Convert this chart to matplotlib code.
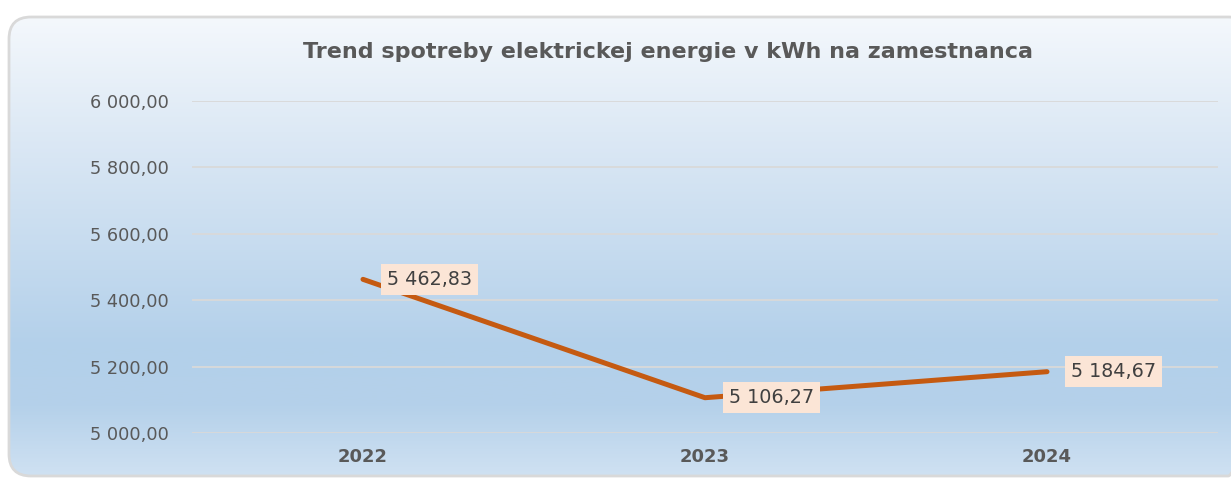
import numpy as np
import matplotlib
matplotlib.use("Agg")
import matplotlib.pyplot as plt
from matplotlib.patches import FancyBboxPatch
from matplotlib.colors import LinearSegmentedColormap

years = ["2022", "2023", "2024"]
values = [5462.83, 5106.27, 5184.67]
yticks = [5000, 5200, 5400, 5600, 5800, 6000]
title = "Trend spotreby elektrickej energie v kWh na zamestnanca"

def fmt(v):
    s = f"{v:,.2f}"
    return s.replace(",", " ").replace(".", ",")

FONT = "DejaVu Sans"
W, H = 1231, 478
fig = plt.figure(figsize=(W / 100, H / 100), dpi=100)
fig.patch.set_facecolor("white")

# background panel with gradient
bg = fig.add_axes([0, 0, 1, 1])
bg.set_xlim(0, W)
bg.set_ylim(H, 0)
bg.axis("off")
cmap = LinearSegmentedColormap.from_list(
    "g", [(0.0, "#f4f8fc"), (0.25, "#dde9f5"), (0.72, "#b3d0ea"), (0.85, "#b5d1ea"), (1.0, "#cfe1f2")])
grad = np.linspace(0, 1, 256).reshape(-1, 1)
x0, y0, x1, y1 = 9, 17, 1250, 476
im = bg.imshow(grad, cmap=cmap, aspect="auto", extent=[x0, x1, y1, y0], zorder=1)
panel = FancyBboxPatch((x0, y0), x1 - x0, y1 - y0, boxstyle="round,pad=0,rounding_size=22",
                       facecolor="none", edgecolor="#d9d9d9", linewidth=2.0, zorder=2)
bg.add_patch(panel)
im.set_clip_path(panel)

# main axes
left_px, right_px = 192, 1218
top_px, bot_px = 101, 433
ax = fig.add_axes([left_px / W, (H - bot_px) / H, (right_px - left_px) / W, (bot_px - top_px) / H])
ax.set_facecolor("none")
ax.set_xlim(-0.5, 2.5)
ax.set_ylim(5000, 6000)
ax.set_yticks(yticks)
ax.set_yticklabels([fmt(v) for v in yticks])
ax.set_xticks(range(len(years)))
ax.set_xticklabels(years)
for s in ax.spines.values():
    s.set_visible(False)
ax.grid(axis="y", color="#d9d9d9", linewidth=1.3)
ax.set_axisbelow(True)
ax.tick_params(axis="both", length=0)
ax.tick_params(axis="y", pad=17, labelsize=12.8, labelcolor="#595959")
ax.tick_params(axis="x", pad=11, labelsize=13, labelcolor="#595959")
for lab in ax.get_yticklabels():
    lab.set_fontfamily(FONT)
for lab in ax.get_xticklabels():
    lab.set_fontfamily(FONT)
    lab.set_fontweight("bold")

xs = np.arange(len(years))
ax.plot(xs, values, color="#c55a11", linewidth=3.6, solid_capstyle="round",
        solid_joinstyle="round", zorder=3)
for x, v in zip(xs, values):
    ax.annotate(fmt(v), (x, v), xytext=(24, 0), textcoords="offset pixels",
                ha="left", va="center", fontsize=13.8, color="#404040", family=FONT,
                bbox=dict(boxstyle="square,pad=0.3", facecolor="#fbe5d6", edgecolor="none"),
                zorder=4)

fig.text(668 / W, 1 - 52 / H, title, ha="center", va="center", fontsize=16,
         fontweight="bold", color="#595959", family=FONT)

fig.savefig("out.png", dpi=100)
